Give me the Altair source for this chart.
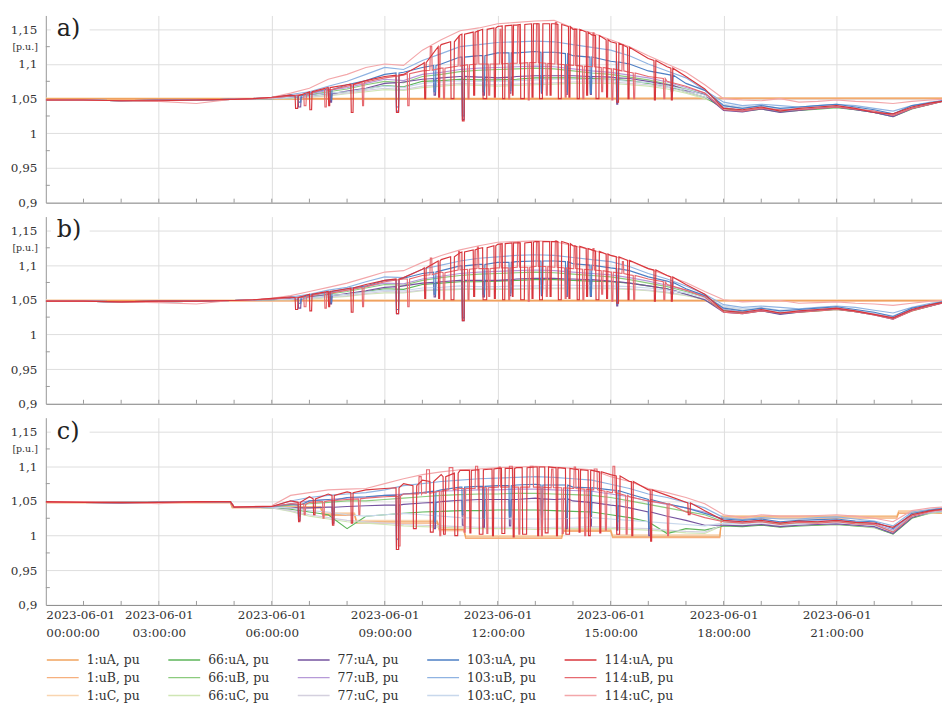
import altair as alt
import pandas as pd

# ---------------- time grids (hours of 2023-06-01) ----------------
NIGHT_H = [0, 1, 2, 3, 4, 4.9, 5, 5.5]
BASE_H = NIGHT_H + [6 + 0.5 * i for i in range(36)] + [23.8]
ONE_H_AB = [0, 6, 12, 18, 23.8]
ONE_H_C = [0, 4.9, 4.95, 7.3, 7.35, 8.2, 8.25, 10.4, 10.45, 11.1, 11.15, 13.7, 13.75, 15.0, 15.05, 17.9, 17.95, 22.6, 22.65, 23.8]

SERIES = ["1:uA, pu", "1:uB, pu", "1:uC, pu", "66:uA, pu", "66:uB, pu", "66:uC, pu",
          "77:uA, pu", "77:uB, pu", "77:uC, pu", "103:uA, pu", "103:uB, pu", "103:uC, pu",
          "114:uA, pu", "114:uB, pu", "114:uC, pu"]
COLORS = ["#F0A35E", "#F6B07E", "#F9D5B0", "#5DB55A", "#8CCB7E", "#CFE6B4",
          "#74539F", "#B69AD8", "#D4D0DE", "#4D7FC4", "#8FB3E2", "#C8D8EC",
          "#D8363C", "#E66A70", "#F3A7AA"]
LEGEND_ORDER = [SERIES[n * 3 + p] for p in range(3) for n in range(5)]
LEGEND_COLORS = [COLORS[SERIES.index(s)] for s in LEGEND_ORDER]

Y_TICKS = [0.9, 0.95, 1.0, 1.05, 1.1, 1.15]
Y_MINOR = [0.925, 0.975, 1.025, 1.075, 1.125]
X_LABEL_HOURS = [0, 3, 6, 9, 12, 15, 18, 21]
X_MINOR_HOURS = list(range(1, 24))

# Spiky series: smooth level on BASE_H + excursions (start h, end h, excursion value, level value)

# ======================= panel a =======================
A_1A = [1.050, 1.050, 1.050, 1.051, 1.051]
A_1B = [1.049, 1.049, 1.049, 1.050, 1.050]
A_1C = [1.051, 1.051, 1.051, 1.051, 1.051]

A_66A = [1.048, 1.048, 1.047, 1.047, 1.048, 1.049, 1.049, 1.050,
         1.050, 1.051, 1.054, 1.057, 1.060, 1.064, 1.069, 1.067, 1.075, 1.076, 1.078, 1.077,
         1.077, 1.078, 1.080, 1.080, 1.080, 1.079, 1.078, 1.076, 1.072, 1.068, 1.060, 1.052,
         1.036, 1.032, 1.035, 1.031, 1.033, 1.035, 1.037, 1.034, 1.030, 1.024, 1.035, 1.042, 1.046]
A_66B = [1.048, 1.048, 1.047, 1.047, 1.048, 1.049, 1.049, 1.050,
         1.050, 1.053, 1.056, 1.060, 1.064, 1.070, 1.075, 1.073, 1.082, 1.085, 1.089, 1.091,
         1.092, 1.093, 1.094, 1.093, 1.090, 1.087, 1.085, 1.081, 1.077, 1.071, 1.064, 1.056,
         1.037, 1.033, 1.036, 1.032, 1.034, 1.036, 1.038, 1.035, 1.030, 1.025, 1.036, 1.043, 1.046]
A_66C = [1.048, 1.048, 1.047, 1.047, 1.048, 1.049, 1.049, 1.050,
         1.050, 1.050, 1.052, 1.054, 1.057, 1.060, 1.063, 1.062, 1.066, 1.068, 1.070, 1.069,
         1.068, 1.069, 1.070, 1.071, 1.072, 1.072, 1.072, 1.070, 1.068, 1.064, 1.058, 1.050,
         1.040, 1.036, 1.038, 1.034, 1.035, 1.037, 1.039, 1.036, 1.031, 1.026, 1.037, 1.043, 1.046]
A_77A = [1.048, 1.048, 1.047, 1.048, 1.048, 1.049, 1.049, 1.050,
         1.050, 1.053, 1.055, 1.058, 1.061, 1.065, 1.072, 1.074, 1.078, 1.080, 1.082, 1.081,
         1.080, 1.082, 1.083, 1.083, 1.083, 1.082, 1.081, 1.079, 1.075, 1.070, 1.062, 1.056,
         1.033, 1.031, 1.035, 1.030, 1.033, 1.036, 1.038, 1.034, 1.030, 1.024, 1.036, 1.042, 1.046]
A_77A_X = [(6.7, 6.78, 1.038, 1.052), (7.55, 7.6, 1.045, 1.057), (9.3, 9.38, 1.032, 1.073),
           (10.3, 10.36, 1.055, 1.079), (11.05, 11.12, 1.020, 1.082), (11.6, 11.66, 1.055, 1.081),
           (12.3, 12.36, 1.058, 1.081), (13.15, 13.2, 1.058, 1.083), (13.8, 13.86, 1.056, 1.083),
           (14.45, 14.5, 1.056, 1.082), (15.15, 15.2, 1.042, 1.080), (16.6, 16.66, 1.060, 1.069)]
A_77B = [1.048, 1.048, 1.047, 1.047, 1.048, 1.049, 1.049, 1.050,
         1.051, 1.054, 1.057, 1.062, 1.066, 1.072, 1.078, 1.076, 1.085, 1.088, 1.092, 1.094,
         1.095, 1.096, 1.097, 1.096, 1.093, 1.090, 1.088, 1.084, 1.080, 1.074, 1.066, 1.058,
         1.037, 1.033, 1.036, 1.032, 1.034, 1.036, 1.038, 1.035, 1.030, 1.025, 1.036, 1.043, 1.046]
A_77C = [1.048, 1.048, 1.047, 1.047, 1.048, 1.049, 1.049, 1.050,
         1.050, 1.051, 1.052, 1.055, 1.058, 1.062, 1.065, 1.063, 1.068, 1.070, 1.072, 1.071,
         1.070, 1.071, 1.072, 1.073, 1.074, 1.074, 1.074, 1.072, 1.070, 1.066, 1.060, 1.052,
         1.040, 1.036, 1.038, 1.034, 1.035, 1.037, 1.039, 1.036, 1.031, 1.026, 1.037, 1.043, 1.046]
A_103A = [1.048, 1.048, 1.047, 1.048, 1.048, 1.049, 1.049, 1.050,
          1.052, 1.055, 1.058, 1.064, 1.070, 1.076, 1.085, 1.088, 1.095, 1.100, 1.110, 1.112,
          1.116, 1.116, 1.118, 1.117, 1.112, 1.110, 1.104, 1.100, 1.090, 1.085, 1.072, 1.062,
          1.040, 1.036, 1.040, 1.036, 1.038, 1.040, 1.042, 1.038, 1.034, 1.028, 1.040, 1.044, 1.047]
A_103A_X = [(6.7, 6.78, 1.045, 1.054), (7.55, 7.6, 1.048, 1.063), (9.3, 9.38, 1.038, 1.087),
            (10.3, 10.36, 1.060, 1.098), (11.05, 11.12, 1.025, 1.110), (11.6, 11.66, 1.060, 1.112),
            (12.3, 12.36, 1.062, 1.116), (13.15, 13.2, 1.060, 1.117), (13.8, 13.86, 1.060, 1.115),
            (14.45, 14.5, 1.058, 1.110), (15.15, 15.2, 1.045, 1.103), (16.6, 16.66, 1.070, 1.084)]
A_103B = [1.048, 1.048, 1.047, 1.047, 1.048, 1.049, 1.049, 1.050,
          1.052, 1.056, 1.060, 1.068, 1.075, 1.085, 1.095, 1.092, 1.105, 1.115, 1.125, 1.128,
          1.131, 1.132, 1.133, 1.132, 1.128, 1.124, 1.120, 1.112, 1.100, 1.090, 1.080, 1.062,
          1.045, 1.040, 1.042, 1.040, 1.038, 1.040, 1.042, 1.040, 1.036, 1.032, 1.040, 1.045, 1.047]
A_103C = [1.048, 1.048, 1.047, 1.047, 1.048, 1.049, 1.049, 1.050,
          1.050, 1.052, 1.054, 1.058, 1.060, 1.064, 1.068, 1.066, 1.072, 1.074, 1.076, 1.075,
          1.075, 1.076, 1.077, 1.078, 1.078, 1.077, 1.077, 1.075, 1.073, 1.068, 1.063, 1.055,
          1.042, 1.038, 1.040, 1.036, 1.036, 1.038, 1.040, 1.036, 1.032, 1.028, 1.038, 1.044, 1.047]
A_114A = [1.048, 1.048, 1.047, 1.047, 1.048, 1.049, 1.049, 1.050,
          1.052, 1.055, 1.060, 1.066, 1.070, 1.076, 1.082, 1.085, 1.100, 1.128, 1.142, 1.148,
          1.154, 1.156, 1.158, 1.158, 1.150, 1.142, 1.132, 1.122, 1.108, 1.096, 1.082, 1.064,
          1.036, 1.034, 1.038, 1.032, 1.036, 1.038, 1.040, 1.036, 1.030, 1.028, 1.038, 1.044, 1.046]
A_114A_X = [(6.62, 6.7, 1.036, 1.054), (7.0, 7.07, 1.034, 1.060), (7.5, 7.55, 1.040, 1.066),
            (8.1, 8.17, 1.030, 1.071), (9.3, 9.38, 1.030, 1.084), (10.05, 10.1, 1.050, 1.102),
            (10.42, 10.47, 1.052, 1.125), (10.75, 10.85, 1.050, 1.132), (11.05, 11.12, 1.018, 1.143),
            (11.35, 11.4, 1.055, 1.146), (11.6, 11.72, 1.050, 1.150), (11.9, 11.95, 1.052, 1.152),
            (12.12, 12.2, 1.050, 1.155), (12.38, 12.42, 1.055, 1.156), (12.6, 12.72, 1.050, 1.157),
            (12.9, 12.95, 1.052, 1.158), (13.1, 13.2, 1.050, 1.158), (13.38, 13.43, 1.055, 1.158),
            (13.6, 13.7, 1.050, 1.157), (13.88, 13.93, 1.052, 1.154), (14.1, 14.18, 1.050, 1.150),
            (14.35, 14.4, 1.055, 1.146), (14.6, 14.7, 1.050, 1.141), (14.88, 14.93, 1.052, 1.135),
            (15.15, 15.22, 1.045, 1.130), (15.45, 15.5, 1.050, 1.124), (16.15, 16.2, 1.048, 1.105),
            (16.6, 16.65, 1.048, 1.094)]
A_114B = [1.048, 1.048, 1.047, 1.048, 1.048, 1.049, 1.049, 1.050,
          1.051, 1.054, 1.057, 1.062, 1.068, 1.074, 1.080, 1.084, 1.090, 1.094, 1.098, 1.100,
          1.100, 1.101, 1.102, 1.100, 1.098, 1.096, 1.093, 1.088, 1.082, 1.075, 1.068, 1.058,
          1.034, 1.032, 1.036, 1.034, 1.034, 1.036, 1.038, 1.035, 1.032, 1.026, 1.036, 1.042, 1.046]
A_114B_X = [(6.85, 6.92, 1.040, 1.056), (7.4, 7.46, 1.038, 1.064), (8.4, 8.45, 1.040, 1.073),
            (9.6, 9.66, 1.040, 1.086), (10.2, 10.26, 1.125, 1.091), (10.55, 10.6, 1.050, 1.094),
            (10.95, 11.0, 1.140, 1.097), (11.2, 11.25, 1.050, 1.099), (11.45, 11.5, 1.148, 1.100),
            (11.75, 11.8, 1.055, 1.100), (12.05, 12.1, 1.150, 1.100), (12.28, 12.33, 1.050, 1.101),
            (12.52, 12.58, 1.155, 1.101), (12.8, 12.85, 1.048, 1.102), (13.02, 13.08, 1.158, 1.102),
            (13.28, 13.33, 1.055, 1.101), (13.52, 13.58, 1.160, 1.100), (13.78, 13.83, 1.052, 1.099),
            (14.02, 14.07, 1.150, 1.098), (14.25, 14.3, 1.050, 1.097), (14.52, 14.57, 1.145, 1.096),
            (14.75, 14.8, 1.060, 1.095), (15.02, 15.07, 1.048, 1.093), (15.3, 15.35, 1.128, 1.090),
            (15.6, 15.65, 1.050, 1.087), (16.4, 16.45, 1.050, 1.079)]
A_114C = [1.048, 1.048, 1.047, 1.046, 1.043, 1.049, 1.049, 1.050,
          1.052, 1.058, 1.065, 1.078, 1.085, 1.095, 1.100, 1.098, 1.120, 1.135, 1.148, 1.152,
          1.158, 1.160, 1.162, 1.163, 1.152, 1.145, 1.135, 1.125, 1.112, 1.100, 1.088, 1.070,
          1.050, 1.048, 1.047, 1.050, 1.045, 1.046, 1.048, 1.046, 1.045, 1.043, 1.046, 1.048, 1.049]

# ======================= panel b =======================
B_1A = [1.049, 1.049, 1.049, 1.049, 1.049]
B_1B = [1.048, 1.048, 1.048, 1.048, 1.048]
B_1C = [1.050, 1.050, 1.050, 1.050, 1.050]

B_66A = [1.048, 1.048, 1.047, 1.047, 1.048, 1.049, 1.049, 1.050,
         1.050, 1.051, 1.053, 1.056, 1.058, 1.062, 1.066, 1.065, 1.072, 1.074, 1.076, 1.076,
         1.077, 1.078, 1.079, 1.079, 1.078, 1.077, 1.076, 1.074, 1.070, 1.066, 1.058, 1.050,
         1.035, 1.031, 1.034, 1.030, 1.032, 1.034, 1.036, 1.033, 1.029, 1.023, 1.034, 1.041, 1.046]
B_66B = [1.048, 1.048, 1.047, 1.047, 1.048, 1.049, 1.049, 1.050,
         1.050, 1.052, 1.055, 1.058, 1.062, 1.067, 1.072, 1.071, 1.078, 1.082, 1.085, 1.087,
         1.088, 1.089, 1.090, 1.089, 1.087, 1.085, 1.083, 1.079, 1.074, 1.069, 1.062, 1.054,
         1.036, 1.032, 1.035, 1.031, 1.033, 1.035, 1.037, 1.034, 1.029, 1.024, 1.035, 1.042, 1.046]
B_66C = [1.048, 1.048, 1.047, 1.047, 1.048, 1.049, 1.049, 1.050,
         1.050, 1.050, 1.051, 1.053, 1.055, 1.058, 1.060, 1.060, 1.063, 1.064, 1.065, 1.065,
         1.065, 1.065, 1.066, 1.066, 1.066, 1.066, 1.066, 1.065, 1.063, 1.060, 1.056, 1.050,
         1.039, 1.035, 1.037, 1.033, 1.034, 1.036, 1.038, 1.035, 1.030, 1.025, 1.036, 1.042, 1.046]
B_77A = [1.048, 1.048, 1.047, 1.048, 1.048, 1.049, 1.049, 1.050,
         1.050, 1.052, 1.054, 1.057, 1.059, 1.063, 1.068, 1.070, 1.074, 1.076, 1.078, 1.078,
         1.078, 1.080, 1.081, 1.081, 1.080, 1.079, 1.077, 1.074, 1.070, 1.066, 1.058, 1.050,
         1.032, 1.030, 1.034, 1.029, 1.032, 1.035, 1.037, 1.033, 1.028, 1.022, 1.035, 1.041, 1.045]
B_77A_X = [(6.7, 6.78, 1.038, 1.051), (7.55, 7.6, 1.044, 1.056), (9.3, 9.38, 1.030, 1.069),
           (10.3, 10.36, 1.054, 1.075), (11.05, 11.12, 1.020, 1.078), (11.6, 11.66, 1.054, 1.078),
           (12.3, 12.36, 1.056, 1.079), (13.15, 13.2, 1.056, 1.081), (13.8, 13.86, 1.055, 1.080),
           (14.45, 14.5, 1.055, 1.079), (15.15, 15.2, 1.041, 1.076), (16.6, 16.66, 1.058, 1.064)]
B_77B = [1.048, 1.048, 1.047, 1.047, 1.048, 1.049, 1.049, 1.050,
         1.051, 1.053, 1.056, 1.060, 1.064, 1.069, 1.074, 1.073, 1.080, 1.084, 1.088, 1.090,
         1.091, 1.092, 1.093, 1.092, 1.090, 1.088, 1.086, 1.082, 1.077, 1.071, 1.064, 1.056,
         1.036, 1.032, 1.035, 1.031, 1.033, 1.035, 1.037, 1.034, 1.029, 1.024, 1.035, 1.042, 1.046]
B_77C = [1.048, 1.048, 1.047, 1.047, 1.048, 1.049, 1.049, 1.050,
         1.050, 1.050, 1.052, 1.054, 1.056, 1.059, 1.062, 1.061, 1.064, 1.065, 1.066, 1.066,
         1.066, 1.066, 1.067, 1.067, 1.067, 1.067, 1.067, 1.066, 1.064, 1.061, 1.057, 1.051,
         1.039, 1.035, 1.037, 1.033, 1.034, 1.036, 1.038, 1.035, 1.030, 1.025, 1.036, 1.042, 1.046]
B_103A = [1.048, 1.048, 1.047, 1.048, 1.048, 1.049, 1.049, 1.050,
          1.051, 1.054, 1.057, 1.061, 1.066, 1.070, 1.078, 1.081, 1.088, 1.092, 1.099, 1.101,
          1.104, 1.105, 1.106, 1.106, 1.102, 1.100, 1.096, 1.092, 1.083, 1.077, 1.066, 1.056,
          1.038, 1.034, 1.038, 1.034, 1.036, 1.038, 1.040, 1.036, 1.032, 1.026, 1.038, 1.043, 1.047]
B_103A_X = [(6.7, 6.78, 1.045, 1.053), (7.55, 7.6, 1.046, 1.062), (9.3, 9.38, 1.036, 1.079),
            (10.3, 10.36, 1.058, 1.090), (11.05, 11.12, 1.024, 1.099), (11.6, 11.66, 1.058, 1.101),
            (12.3, 12.36, 1.060, 1.104), (13.15, 13.2, 1.058, 1.106), (13.8, 13.86, 1.058, 1.105),
            (14.45, 14.5, 1.056, 1.100), (15.15, 15.2, 1.044, 1.095), (16.6, 16.66, 1.066, 1.075)]
B_103B = [1.048, 1.048, 1.047, 1.047, 1.048, 1.049, 1.049, 1.050,
          1.051, 1.054, 1.058, 1.064, 1.068, 1.076, 1.083, 1.082, 1.094, 1.100, 1.106, 1.110,
          1.112, 1.114, 1.115, 1.114, 1.111, 1.108, 1.105, 1.098, 1.088, 1.080, 1.070, 1.058,
          1.043, 1.039, 1.041, 1.039, 1.037, 1.039, 1.041, 1.039, 1.035, 1.031, 1.039, 1.045, 1.047]
B_103C = [1.048, 1.048, 1.047, 1.047, 1.048, 1.049, 1.049, 1.050,
          1.050, 1.051, 1.053, 1.056, 1.058, 1.061, 1.064, 1.063, 1.067, 1.068, 1.070, 1.069,
          1.069, 1.070, 1.070, 1.071, 1.071, 1.070, 1.070, 1.069, 1.067, 1.064, 1.060, 1.053,
          1.041, 1.037, 1.039, 1.035, 1.035, 1.037, 1.039, 1.035, 1.031, 1.027, 1.037, 1.043, 1.046]
B_114A = [1.048, 1.048, 1.047, 1.048, 1.048, 1.049, 1.049, 1.050,
          1.052, 1.054, 1.058, 1.062, 1.066, 1.072, 1.078, 1.082, 1.094, 1.108, 1.118, 1.124,
          1.130, 1.132, 1.134, 1.134, 1.128, 1.122, 1.114, 1.106, 1.095, 1.085, 1.072, 1.058,
          1.034, 1.032, 1.036, 1.031, 1.034, 1.036, 1.038, 1.034, 1.029, 1.024, 1.036, 1.043, 1.046]
B_114A_X = [(6.62, 6.7, 1.036, 1.053), (7.0, 7.07, 1.034, 1.058), (7.5, 7.55, 1.040, 1.062),
            (8.1, 8.17, 1.032, 1.067), (9.3, 9.38, 1.030, 1.080), (10.05, 10.1, 1.052, 1.096),
            (10.42, 10.47, 1.052, 1.106), (10.75, 10.85, 1.050, 1.112), (11.05, 11.12, 1.020, 1.119),
            (11.35, 11.4, 1.055, 1.122), (11.6, 11.72, 1.050, 1.125), (11.9, 11.95, 1.052, 1.128),
            (12.12, 12.2, 1.050, 1.131), (12.38, 12.42, 1.055, 1.132), (12.6, 12.72, 1.050, 1.132),
            (12.9, 12.95, 1.052, 1.133), (13.1, 13.2, 1.050, 1.134), (13.38, 13.43, 1.055, 1.134),
            (13.6, 13.7, 1.050, 1.134), (13.88, 13.93, 1.052, 1.131), (14.1, 14.18, 1.050, 1.127),
            (14.35, 14.4, 1.055, 1.124), (14.6, 14.7, 1.050, 1.120), (14.88, 14.93, 1.052, 1.116),
            (15.15, 15.22, 1.045, 1.112), (15.45, 15.5, 1.050, 1.107), (16.15, 16.2, 1.048, 1.093),
            (16.6, 16.65, 1.048, 1.083)]
B_114B = [1.048, 1.048, 1.047, 1.048, 1.048, 1.049, 1.049, 1.050,
          1.051, 1.053, 1.055, 1.059, 1.064, 1.069, 1.076, 1.080, 1.085, 1.090, 1.094, 1.095,
          1.096, 1.097, 1.098, 1.097, 1.095, 1.093, 1.090, 1.086, 1.080, 1.072, 1.064, 1.054,
          1.032, 1.030, 1.034, 1.031, 1.032, 1.034, 1.036, 1.033, 1.028, 1.022, 1.034, 1.041, 1.045]
B_114B_X = [(6.85, 6.92, 1.040, 1.054), (7.4, 7.46, 1.038, 1.061), (8.4, 8.45, 1.040, 1.068),
            (9.6, 9.66, 1.040, 1.080), (10.2, 10.26, 1.110, 1.086), (10.55, 10.6, 1.050, 1.089),
            (10.95, 11.0, 1.120, 1.093), (11.2, 11.25, 1.050, 1.094), (11.45, 11.5, 1.126, 1.095),
            (11.75, 11.8, 1.055, 1.095), (12.05, 12.1, 1.130, 1.096), (12.28, 12.33, 1.050, 1.096),
            (12.52, 12.58, 1.133, 1.097), (12.8, 12.85, 1.048, 1.097), (13.02, 13.08, 1.134, 1.098),
            (13.28, 13.33, 1.055, 1.098), (13.52, 13.58, 1.135, 1.097), (13.78, 13.83, 1.052, 1.096),
            (14.02, 14.07, 1.128, 1.095), (14.25, 14.3, 1.050, 1.094), (14.52, 14.57, 1.124, 1.093),
            (14.75, 14.8, 1.058, 1.092), (15.02, 15.07, 1.048, 1.090), (15.3, 15.35, 1.105, 1.088),
            (15.6, 15.65, 1.050, 1.085), (16.4, 16.45, 1.050, 1.076)]
B_114C = [1.048, 1.048, 1.047, 1.046, 1.044, 1.049, 1.049, 1.050,
          1.052, 1.056, 1.062, 1.068, 1.074, 1.082, 1.090, 1.092, 1.104, 1.114, 1.122, 1.128,
          1.133, 1.134, 1.135, 1.134, 1.128, 1.122, 1.114, 1.106, 1.095, 1.085, 1.075, 1.062,
          1.050, 1.047, 1.048, 1.049, 1.045, 1.046, 1.047, 1.045, 1.044, 1.042, 1.045, 1.048, 1.049]

# ======================= panel c =======================
C_1A = [1.048, 1.048, 1.041, 1.041, 1.031, 1.031, 1.020, 1.020, 1.009, 1.009,
        0.998, 0.998, 1.008, 1.008, 0.999, 0.999, 1.027, 1.027, 1.034, 1.034]
C_1B = [1.047, 1.047, 1.040, 1.040, 1.029, 1.029, 1.018, 1.018, 1.007, 1.007,
        0.996, 0.996, 1.006, 1.006, 0.997, 0.997, 1.025, 1.025, 1.032, 1.032]
C_1C = [1.049, 1.049, 1.042, 1.042, 1.033, 1.033, 1.022, 1.022, 1.011, 1.011,
        1.000, 1.000, 1.010, 1.010, 1.001, 1.001, 1.029, 1.029, 1.036, 1.036]

C_66A = [1.049, 1.048, 1.048, 1.048, 1.049, 1.049, 1.041, 1.041,
         1.040, 1.038, 1.034, 1.030, 1.010, 1.028, 1.030, 1.032, 1.034, 1.035, 1.036, 1.036,
         1.037, 1.037, 1.037, 1.036, 1.035, 1.034, 1.030, 1.026, 1.020, 1.003, 1.010, 1.008,
         1.014, 1.013, 1.015, 1.012, 1.014, 1.015, 1.016, 1.014, 1.012, 1.002, 1.025, 1.033, 1.035]
C_66B = [1.049, 1.048, 1.048, 1.048, 1.049, 1.049, 1.041, 1.041,
         1.041, 1.044, 1.046, 1.048, 1.050, 1.050, 1.052, 1.054, 1.056, 1.058, 1.059, 1.060,
         1.060, 1.061, 1.061, 1.060, 1.059, 1.058, 1.055, 1.050, 1.045, 1.040, 1.035, 1.030,
         1.020, 1.018, 1.020, 1.017, 1.018, 1.019, 1.020, 1.018, 1.015, 1.006, 1.029, 1.035, 1.037]
C_66C = [1.049, 1.048, 1.048, 1.048, 1.049, 1.049, 1.041, 1.041,
         1.040, 1.035, 1.028, 1.024, 1.020, 1.018, 1.016, 1.014, 1.013, 1.012, 1.011, 1.010,
         1.010, 1.010, 1.009, 1.010, 1.010, 1.011, 1.010, 1.009, 1.008, 1.006, 1.004, 1.003,
         1.015, 1.014, 1.016, 1.013, 1.014, 1.015, 1.016, 1.014, 1.011, 1.003, 1.026, 1.032, 1.034]
C_77A = [1.048, 1.048, 1.047, 1.048, 1.048, 1.049, 1.041, 1.041,
         1.041, 1.040, 1.040, 1.041, 1.042, 1.043, 1.044, 1.045, 1.047, 1.049, 1.051, 1.052,
         1.052, 1.052, 1.054, 1.052, 1.050, 1.048, 1.044, 1.040, 1.034, 1.028, 1.022, 1.015,
         1.015, 1.014, 1.016, 1.013, 1.015, 1.016, 1.017, 1.015, 1.013, 1.003, 1.026, 1.034, 1.036]
C_77A_X = [(6.7, 6.76, 1.022, 1.040), (7.6, 7.66, 1.018, 1.041), (9.3, 9.38, 0.980, 1.044),
           (10.3, 10.36, 1.010, 1.048), (11.05, 11.12, 1.015, 1.051), (11.6, 11.66, 1.012, 1.052),
           (12.3, 12.36, 1.014, 1.052), (13.15, 13.2, 1.012, 1.053), (13.8, 13.86, 1.010, 1.053),
           (14.45, 14.5, 1.014, 1.048), (15.15, 15.2, 1.008, 1.043), (16.0, 16.06, 1.000, 1.034)]
C_77B = [1.049, 1.048, 1.048, 1.048, 1.049, 1.049, 1.041, 1.041,
         1.042, 1.046, 1.050, 1.052, 1.054, 1.055, 1.058, 1.060, 1.062, 1.064, 1.065, 1.066,
         1.066, 1.067, 1.067, 1.066, 1.065, 1.064, 1.060, 1.056, 1.050, 1.045, 1.040, 1.034,
         1.022, 1.019, 1.022, 1.019, 1.020, 1.021, 1.022, 1.020, 1.017, 1.008, 1.030, 1.036, 1.038]
C_77C = [1.049, 1.048, 1.048, 1.048, 1.049, 1.049, 1.041, 1.041,
         1.040, 1.036, 1.030, 1.026, 1.022, 1.020, 1.018, 1.016, 1.015, 1.014, 1.013, 1.012,
         1.012, 1.012, 1.011, 1.012, 1.012, 1.013, 1.012, 1.011, 1.010, 1.008, 1.006, 1.005,
         1.016, 1.015, 1.017, 1.014, 1.015, 1.016, 1.017, 1.015, 1.012, 1.004, 1.027, 1.033, 1.035]
C_103A = [1.048, 1.048, 1.047, 1.048, 1.048, 1.049, 1.041, 1.041,
          1.042, 1.045, 1.050, 1.052, 1.055, 1.056, 1.058, 1.060, 1.062, 1.066, 1.070, 1.071,
          1.072, 1.073, 1.074, 1.073, 1.070, 1.069, 1.066, 1.060, 1.052, 1.046, 1.040, 1.032,
          1.024, 1.022, 1.024, 1.020, 1.022, 1.023, 1.024, 1.021, 1.020, 1.010, 1.032, 1.037, 1.039]
C_103A_X = [(6.7, 6.76, 1.028, 1.044), (7.6, 7.66, 1.030, 1.051), (9.3, 9.38, 0.995, 1.058),
            (10.3, 10.36, 1.020, 1.064), (11.05, 11.12, 1.030, 1.070), (11.6, 11.66, 1.025, 1.071),
            (12.3, 12.36, 1.028, 1.072), (13.15, 13.2, 1.030, 1.073), (13.8, 13.86, 1.026, 1.073),
            (14.45, 14.5, 1.030, 1.069), (15.15, 15.2, 1.020, 1.065), (16.0, 16.06, 1.010, 1.052)]
C_103B = [1.049, 1.048, 1.048, 1.048, 1.049, 1.049, 1.041, 1.041,
          1.042, 1.050, 1.055, 1.058, 1.060, 1.062, 1.066, 1.072, 1.075, 1.078, 1.080, 1.082,
          1.083, 1.084, 1.085, 1.084, 1.082, 1.080, 1.074, 1.068, 1.060, 1.055, 1.048, 1.040,
          1.026, 1.023, 1.026, 1.024, 1.024, 1.026, 1.027, 1.024, 1.021, 1.014, 1.034, 1.038, 1.040]
C_103C = [1.049, 1.048, 1.048, 1.048, 1.049, 1.049, 1.041, 1.041,
          1.041, 1.040, 1.036, 1.034, 1.030, 1.028, 1.030, 1.032, 1.030, 1.028, 1.026, 1.025,
          1.025, 1.024, 1.024, 1.024, 1.025, 1.026, 1.024, 1.022, 1.020, 1.018, 1.016, 1.014,
          1.018, 1.017, 1.019, 1.016, 1.017, 1.018, 1.019, 1.017, 1.015, 1.006, 1.028, 1.034, 1.036]
C_114A = [1.049, 1.048, 1.048, 1.048, 1.049, 1.049, 1.041, 1.042,
          1.042, 1.050, 1.056, 1.060, 1.063, 1.066, 1.068, 1.075, 1.080, 1.088, 1.094, 1.096,
          1.097, 1.098, 1.099, 1.098, 1.096, 1.094, 1.088, 1.078, 1.066, 1.058, 1.048, 1.036,
          1.022, 1.020, 1.022, 1.018, 1.021, 1.020, 1.022, 1.019, 1.018, 1.012, 1.030, 1.036, 1.038]
C_114A_X = [(6.7, 6.76, 1.020, 1.048), (7.1, 7.16, 1.030, 1.053), (7.6, 7.66, 1.015, 1.058),
            (8.1, 8.16, 1.018, 1.062), (9.3, 9.38, 0.980, 1.069), (9.75, 9.85, 1.010, 1.072),
            (10.2, 10.3, 1.005, 1.078), (10.55, 10.62, 1.002, 1.085), (10.85, 10.95, 1.000, 1.090),
            (11.25, 11.3, 1.004, 1.094), (11.5, 11.62, 1.002, 1.095), (11.85, 11.9, 1.000, 1.096),
            (12.1, 12.2, 1.003, 1.097), (12.4, 12.45, 0.998, 1.097), (12.65, 12.78, 1.002, 1.098),
            (13.05, 13.1, 1.000, 1.099), (13.25, 13.35, 1.004, 1.099), (13.55, 13.6, 1.000, 1.098),
            (13.8, 13.92, 1.002, 1.097), (14.15, 14.2, 1.005, 1.095), (14.4, 14.47, 1.000, 1.094),
            (14.7, 14.75, 1.004, 1.092), (15.15, 15.25, 1.002, 1.086), (15.55, 15.6, 1.000, 1.078),
            (16.05, 16.1, 0.992, 1.066), (17.05, 17.12, 1.030, 1.047)]
C_114B = [1.048, 1.048, 1.047, 1.048, 1.048, 1.049, 1.041, 1.041,
          1.042, 1.046, 1.048, 1.050, 1.052, 1.054, 1.056, 1.060, 1.062, 1.065, 1.068, 1.069,
          1.070, 1.070, 1.070, 1.069, 1.068, 1.066, 1.062, 1.056, 1.050, 1.042, 1.034, 1.026,
          1.020, 1.018, 1.020, 1.016, 1.019, 1.018, 1.020, 1.017, 1.016, 1.005, 1.028, 1.035, 1.037]
C_114B_X = [(6.85, 6.9, 1.030, 1.045), (7.35, 7.4, 1.025, 1.049), (8.3, 8.35, 1.030, 1.053),
            (9.35, 9.42, 0.985, 1.057), (9.9, 9.98, 1.085, 1.060), (10.1, 10.2, 1.095, 1.061),
            (10.45, 10.5, 1.000, 1.064), (10.7, 10.82, 1.098, 1.066), (11.1, 11.15, 1.005, 1.068),
            (11.4, 11.48, 1.100, 1.068), (11.7, 11.75, 1.003, 1.069), (12.02, 12.08, 1.099, 1.070),
            (12.3, 12.4, 1.100, 1.070), (12.55, 12.6, 1.002, 1.070), (12.85, 12.95, 1.100, 1.070),
            (13.15, 13.2, 1.000, 1.070), (13.42, 13.48, 1.096, 1.069), (13.7, 13.75, 1.003, 1.069),
            (14.02, 14.08, 1.099, 1.068), (14.3, 14.35, 1.000, 1.067), (14.55, 14.65, 1.096, 1.066),
            (14.85, 14.9, 1.008, 1.064), (15.05, 15.12, 1.100, 1.062), (15.4, 15.45, 1.002, 1.058),
            (16.5, 16.55, 1.000, 1.046)]
C_114C = [1.049, 1.049, 1.048, 1.046, 1.049, 1.049, 1.042, 1.042,
          1.043, 1.058, 1.062, 1.066, 1.067, 1.068, 1.075, 1.082, 1.088, 1.092, 1.095, 1.096,
          1.098, 1.099, 1.100, 1.099, 1.097, 1.095, 1.085, 1.078, 1.068, 1.062, 1.055, 1.046,
          1.030, 1.026, 1.030, 1.028, 1.028, 1.029, 1.030, 1.028, 1.025, 1.020, 1.036, 1.040, 1.041]

PANELS = {
    "a)": [A_1A, A_1B, A_1C, A_66A, A_66B, A_66C, A_77A, A_77B, A_77C,
           A_103A, A_103B, A_103C, A_114A, A_114B, A_114C],
    "b)": [B_1A, B_1B, B_1C, B_66A, B_66B, B_66C, B_77A, B_77B, B_77C,
           B_103A, B_103B, B_103C, B_114A, B_114B, B_114C],
    "c)": [C_1A, C_1B, C_1C, C_66A, C_66B, C_66C, C_77A, C_77B, C_77C,
           C_103A, C_103B, C_103C, C_114A, C_114B, C_114C],
}
EXCURSIONS = {
    "a)": {"77:uA, pu": A_77A_X, "103:uA, pu": A_103A_X, "114:uA, pu": A_114A_X, "114:uB, pu": A_114B_X},
    "b)": {"77:uA, pu": B_77A_X, "103:uA, pu": B_103A_X, "114:uA, pu": B_114A_X, "114:uB, pu": B_114B_X},
    "c)": {"77:uA, pu": C_77A_X, "103:uA, pu": C_103A_X, "114:uA, pu": C_114A_X, "114:uB, pu": C_114B_X},
}
# drawing order: lighter phase first, darker on top, node 114 last
DRAW_ORDER = [s for n in range(5) for s in (SERIES[n * 3 + 2], SERIES[n * 3 + 1], SERIES[n * 3])]


def stamp(h):
    s = int(round(h * 3600))
    s = min(s, 24 * 3600 - 1)
    return f"2023-06-01T{s // 3600:02d}:{(s % 3600) // 60:02d}:{s % 60:02d}"


def series_points(panel, name, vals):
    hrs = (ONE_H_C if panel == "c)" else ONE_H_AB) if name.startswith("1:") else BASE_H
    if len(hrs) != len(vals):
        raise ValueError(f"{panel} {name}: {len(hrs)} hours vs {len(vals)} values")
    exc = EXCURSIONS[panel].get(name, [])
    pts = [(h, v) for h, v in zip(hrs, vals)
           if not any(t0 <= h <= t1 for t0, t1, _, _ in exc)]
    for t0, t1, ev, lv in exc:
        pts += [(t0, lv), (t0 + 0.012, ev), (t1 - 0.012, ev), (t1, lv)]
    pts.sort()
    return pts


def panel_frame(panel):
    rows = []
    arrays = dict(zip(SERIES, PANELS[panel]))
    for name in DRAW_ORDER:
        for h, v in series_points(panel, name, arrays[name]):
            rows.append({"t": stamp(h), "v": v, "s": name})
    return pd.DataFrame(rows)


FONT = "DejaVu Serif"
W, H = 900, 188
Y_DOMAIN = [0.9, 1.17]
X_DOMAIN = [alt.DateTime(year=2023, month=6, date=1, hours=0),
            alt.DateTime(year=2023, month=6, date=1, hours=23, minutes=48)]
X_VALUES = [alt.DateTime(year=2023, month=6, date=1, hours=h) for h in X_LABEL_HOURS]
xminor_df = pd.DataFrame({"t": [stamp(h) for h in X_MINOR_HOURS]})
yminor_df = pd.DataFrame({"v": Y_MINOR})


def make_panel(panel, bottom):
    df = panel_frame(panel)
    x_axis = alt.Axis(values=X_VALUES, grid=True, ticks=False, labels=bottom,
                      labelExpr="[timeFormat(datum.value, '%Y-%m-%d'), timeFormat(datum.value, '%H:%M:%S')]",
                      labelLineHeight=18, labelPadding=5, labelFont=FONT, labelFontSize=12,
                      labelColor="#333", labelOverlap=False, domainColor="#8a8a8a",
                      gridColor="#dedede", title=None)
    y_axis = alt.Axis(values=Y_TICKS, grid=True, ticks=False, labelOverlap=False,
                      labelExpr="replace(format(datum.value, '.2~f'), '.', ',')",
                      labelPadding=9, labelFont=FONT, labelFontSize=12, labelColor="#333",
                      domainColor="#a0a0a0", gridColor="#dedede", title=None)
    x_scale = alt.Scale(domain=X_DOMAIN)
    y_scale = alt.Scale(domain=Y_DOMAIN)

    def xs():
        return alt.X("t:T", scale=x_scale, axis=x_axis)

    def ys():
        return alt.Y("v:Q", scale=y_scale, axis=y_axis)

    lines = alt.Chart(df).mark_line(strokeWidth=1.15, clip=True).encode(
        x=xs(), y=ys(),
        color=alt.Color("s:N", scale=alt.Scale(domain=LEGEND_ORDER, range=LEGEND_COLORS),
                        legend=alt.Legend(title=None)),
        order=alt.Order("t:T"),
    )
    xminor = alt.Chart(xminor_df).mark_rule(color="#9a9a9a").encode(
        x=xs(), y=alt.value(H - 4), y2=alt.value(H))
    yminor = alt.Chart(yminor_df).mark_rule(color="#9a9a9a").encode(
        y=ys(), x=alt.value(0), x2=alt.value(4))
    lab_df = pd.DataFrame({"label": [panel], "v": [1.15]})
    unit_df = pd.DataFrame({"label": ["[p.u.]"], "v": [1.125]})
    box = alt.Chart(lab_df).mark_rect(color="white").encode(
        x=alt.value(5), x2=alt.value(44), y=alt.value(1), y2=alt.value(27))
    lab = alt.Chart(lab_df).mark_text(align="left", baseline="middle", font=FONT, fontSize=24,
                                      color="#222").encode(
        x=alt.value(11), y=ys(), text="label:N")
    unit = alt.Chart(unit_df).mark_text(align="right", baseline="middle", font=FONT, fontSize=9.5,
                                        color="#333").encode(
        x=alt.value(-8), y=ys(), text="label:N")
    return alt.layer(lines, xminor, yminor, box, lab, unit).properties(width=W, height=H)


chart = alt.vconcat(
    make_panel("a)", False), make_panel("b)", False), make_panel("c)", True), spacing=8
).properties(
    padding={"left": 2, "top": 6, "right": 0, "bottom": 0}
).configure_view(stroke=None).configure_legend(
    orient="bottom", columns=5, symbolType="M-1,0H3.571", symbolSize=196, symbolStrokeWidth=1.5,
    labelFont=FONT, labelFontSize=12.5, labelColor="#333", labelOffset=25,
    rowPadding=3, columnPadding=25, offset=13, padding=0
)

chart.save("out.html", embed_options={"renderer": "svg", "actions": False})
